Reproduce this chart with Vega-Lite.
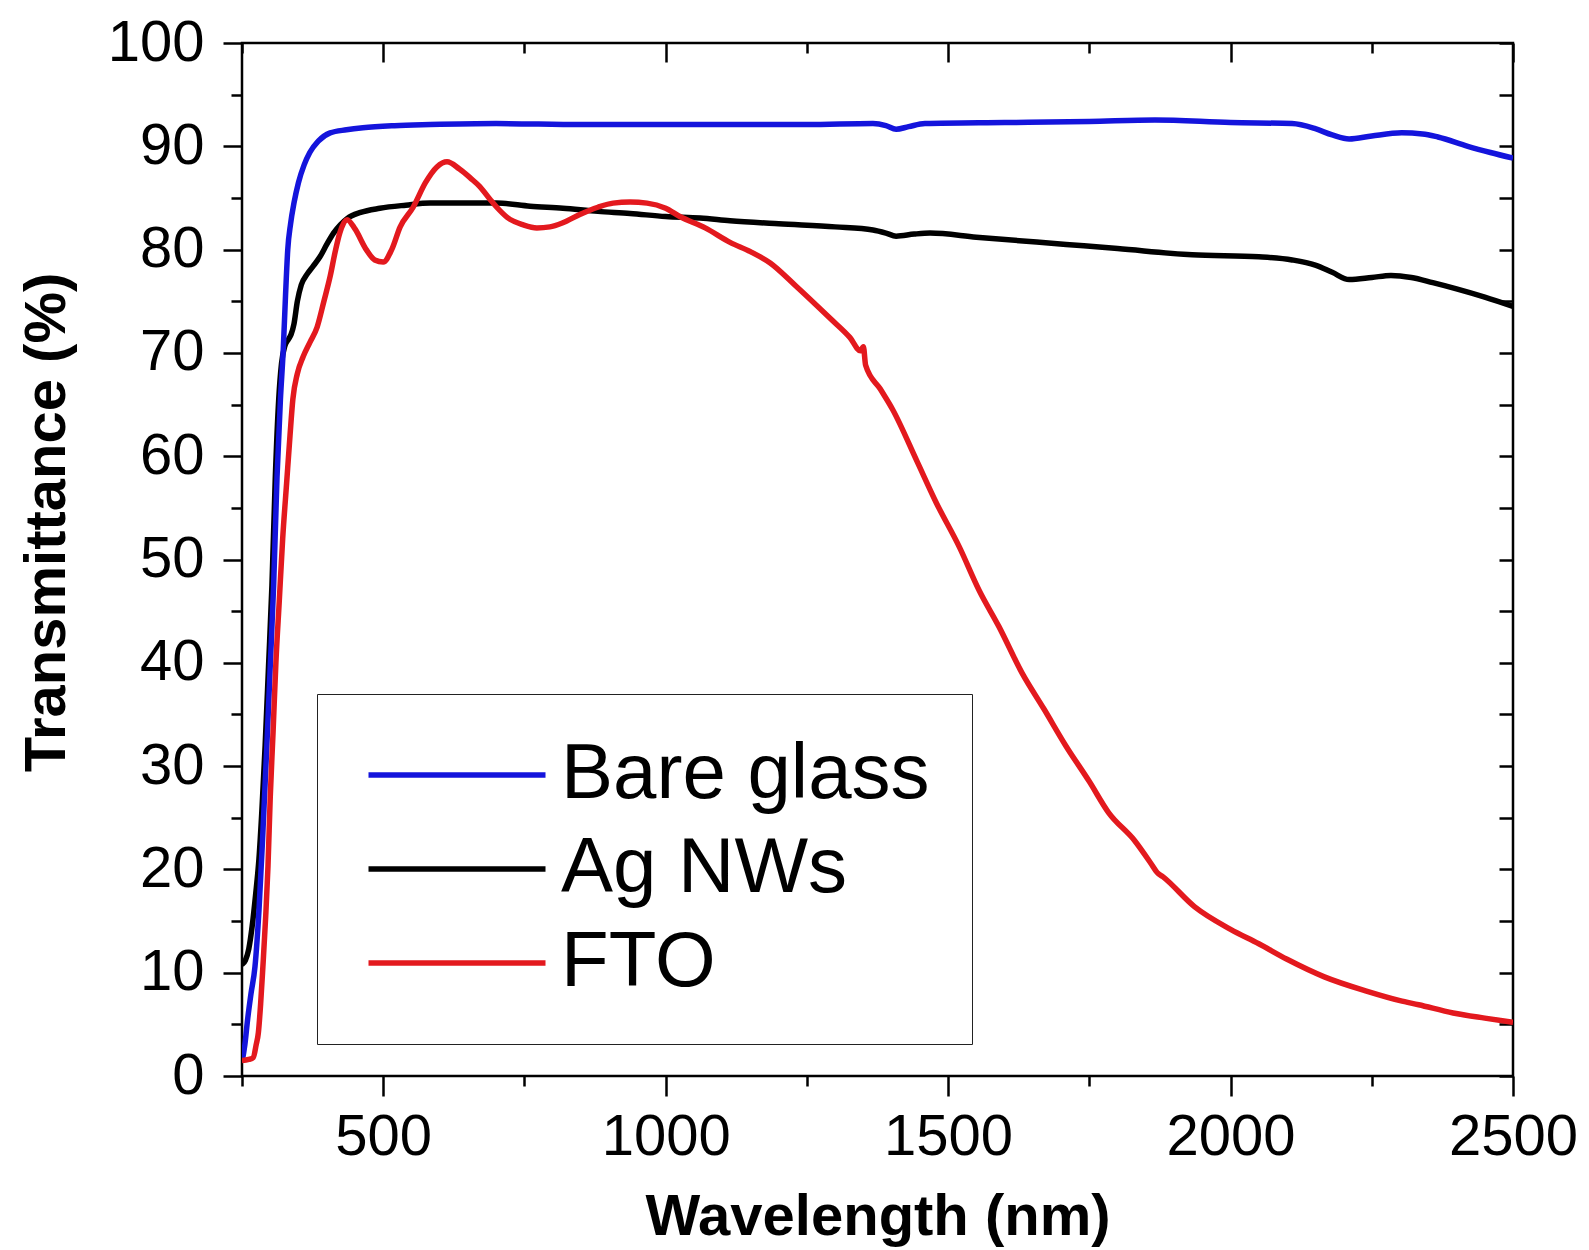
{
  "$schema": "https://vega.github.io/schema/vega-lite/v6.json",
  "autosize": {"type": "none"},
  "width": 1271,
  "height": 1033,
  "padding": {"left": 242, "top": 43, "right": 76, "bottom": 174},
  "background": "white",
  "view": {"stroke": "black", "strokeWidth": 2.5},
  "config": {
    "font": "Liberation Sans",
    "axis": {"grid": false, "domain": false, "zindex": 1, "tickColor": "black", "tickWidth": 2.5, "labelColor": "black", "titleColor": "black", "labelFont": "Liberation Sans", "titleFont": "Liberation Sans", "labelOverlap": false, "labelFlush": false}
  },
  "datasets": {
    "spectra": [
      {"s": "Ag NWs", "w": 250, "t": 10.8}, {"s": "Ag NWs", "w": 256, "t": 11.2}, {"s": "Ag NWs", "w": 262, "t": 12.3}, {"s": "Ag NWs", "w": 268, "t": 14.5}, {"s": "Ag NWs", "w": 274, "t": 17.5}, {"s": "Ag NWs", "w": 280, "t": 21}, {"s": "Ag NWs", "w": 285, "t": 25.5}, {"s": "Ag NWs", "w": 291, "t": 32}, {"s": "Ag NWs", "w": 297, "t": 39.7}, {"s": "Ag NWs", "w": 303, "t": 47.5}, {"s": "Ag NWs", "w": 309, "t": 58}, {"s": "Ag NWs", "w": 315, "t": 65.5}, {"s": "Ag NWs", "w": 320, "t": 69}, {"s": "Ag NWs", "w": 326, "t": 70.7}, {"s": "Ag NWs", "w": 332, "t": 71.3}, {"s": "Ag NWs", "w": 337, "t": 71.8}, {"s": "Ag NWs", "w": 342, "t": 72.8}, {"s": "Ag NWs", "w": 348, "t": 75}, {"s": "Ag NWs", "w": 355, "t": 76.6}, {"s": "Ag NWs", "w": 365, "t": 77.6}, {"s": "Ag NWs", "w": 376, "t": 78.4}, {"s": "Ag NWs", "w": 388, "t": 79.3}, {"s": "Ag NWs", "w": 400, "t": 80.5}, {"s": "Ag NWs", "w": 412, "t": 81.6}, {"s": "Ag NWs", "w": 424, "t": 82.4}, {"s": "Ag NWs", "w": 436, "t": 83}, {"s": "Ag NWs", "w": 460, "t": 83.6}, {"s": "Ag NWs", "w": 494, "t": 84.0}, {"s": "Ag NWs", "w": 540, "t": 84.3}, {"s": "Ag NWs", "w": 583, "t": 84.5}, {"s": "Ag NWs", "w": 650, "t": 84.5}, {"s": "Ag NWs", "w": 701, "t": 84.5}, {"s": "Ag NWs", "w": 760, "t": 84.2}, {"s": "Ag NWs", "w": 818, "t": 84.0}, {"s": "Ag NWs", "w": 880, "t": 83.7}, {"s": "Ag NWs", "w": 937, "t": 83.5}, {"s": "Ag NWs", "w": 1000, "t": 83.2}, {"s": "Ag NWs", "w": 1061, "t": 83.05}, {"s": "Ag NWs", "w": 1114, "t": 82.8}, {"s": "Ag NWs", "w": 1200, "t": 82.5}, {"s": "Ag NWs", "w": 1300, "t": 82.2}, {"s": "Ag NWs", "w": 1367, "t": 81.9}, {"s": "Ag NWs", "w": 1390, "t": 81.6}, {"s": "Ag NWs", "w": 1408, "t": 81.3}, {"s": "Ag NWs", "w": 1440, "t": 81.5}, {"s": "Ag NWs", "w": 1468, "t": 81.6}, {"s": "Ag NWs", "w": 1550, "t": 81.2}, {"s": "Ag NWs", "w": 1709, "t": 80.5}, {"s": "Ag NWs", "w": 1800, "t": 80.1}, {"s": "Ag NWs", "w": 1932, "t": 79.5}, {"s": "Ag NWs", "w": 2050, "t": 79.3}, {"s": "Ag NWs", "w": 2109, "t": 79.0}, {"s": "Ag NWs", "w": 2150, "t": 78.5}, {"s": "Ag NWs", "w": 2180, "t": 77.8}, {"s": "Ag NWs", "w": 2210, "t": 77.1}, {"s": "Ag NWs", "w": 2250, "t": 77.3}, {"s": "Ag NWs", "w": 2284, "t": 77.5}, {"s": "Ag NWs", "w": 2320, "t": 77.3}, {"s": "Ag NWs", "w": 2358, "t": 76.8}, {"s": "Ag NWs", "w": 2400, "t": 76.2}, {"s": "Ag NWs", "w": 2450, "t": 75.4}, {"s": "Ag NWs", "w": 2500, "t": 74.5},
      {"s": "Bare glass", "w": 250, "t": 1.3}, {"s": "Bare glass", "w": 255, "t": 3}, {"s": "Bare glass", "w": 260, "t": 5.5}, {"s": "Bare glass", "w": 266, "t": 8}, {"s": "Bare glass", "w": 273, "t": 10.6}, {"s": "Bare glass", "w": 280, "t": 16}, {"s": "Bare glass", "w": 287, "t": 23.6}, {"s": "Bare glass", "w": 294, "t": 32}, {"s": "Bare glass", "w": 300, "t": 39.7}, {"s": "Bare glass", "w": 306, "t": 47.5}, {"s": "Bare glass", "w": 312, "t": 58}, {"s": "Bare glass", "w": 318, "t": 65.5}, {"s": "Bare glass", "w": 323, "t": 70.3}, {"s": "Bare glass", "w": 327, "t": 75.5}, {"s": "Bare glass", "w": 331, "t": 80}, {"s": "Bare glass", "w": 336, "t": 82.5}, {"s": "Bare glass", "w": 342, "t": 84.5}, {"s": "Bare glass", "w": 350, "t": 86.5}, {"s": "Bare glass", "w": 360, "t": 88.2}, {"s": "Bare glass", "w": 370, "t": 89.4}, {"s": "Bare glass", "w": 385, "t": 90.5}, {"s": "Bare glass", "w": 406, "t": 91.3}, {"s": "Bare glass", "w": 435, "t": 91.6}, {"s": "Bare glass", "w": 464, "t": 91.8}, {"s": "Bare glass", "w": 520, "t": 92.0}, {"s": "Bare glass", "w": 583, "t": 92.1}, {"s": "Bare glass", "w": 700, "t": 92.2}, {"s": "Bare glass", "w": 850, "t": 92.1}, {"s": "Bare glass", "w": 1000, "t": 92.1}, {"s": "Bare glass", "w": 1114, "t": 92.1}, {"s": "Bare glass", "w": 1250, "t": 92.1}, {"s": "Bare glass", "w": 1367, "t": 92.2}, {"s": "Bare glass", "w": 1390, "t": 92.0}, {"s": "Bare glass", "w": 1408, "t": 91.65}, {"s": "Bare glass", "w": 1430, "t": 91.9}, {"s": "Bare glass", "w": 1459, "t": 92.2}, {"s": "Bare glass", "w": 1600, "t": 92.3}, {"s": "Bare glass", "w": 1750, "t": 92.4}, {"s": "Bare glass", "w": 1866, "t": 92.55}, {"s": "Bare glass", "w": 2000, "t": 92.3}, {"s": "Bare glass", "w": 2109, "t": 92.2}, {"s": "Bare glass", "w": 2150, "t": 91.7}, {"s": "Bare glass", "w": 2180, "t": 91.1}, {"s": "Bare glass", "w": 2210, "t": 90.7}, {"s": "Bare glass", "w": 2250, "t": 91.0}, {"s": "Bare glass", "w": 2303, "t": 91.3}, {"s": "Bare glass", "w": 2340, "t": 91.2}, {"s": "Bare glass", "w": 2367, "t": 90.9}, {"s": "Bare glass", "w": 2420, "t": 90.0}, {"s": "Bare glass", "w": 2460, "t": 89.4}, {"s": "Bare glass", "w": 2500, "t": 88.85},
      {"s": "FTO", "w": 250, "t": 1.5}, {"s": "FTO", "w": 262, "t": 1.6}, {"s": "FTO", "w": 270, "t": 1.8}, {"s": "FTO", "w": 275, "t": 3}, {"s": "FTO", "w": 279, "t": 4.2}, {"s": "FTO", "w": 283, "t": 7}, {"s": "FTO", "w": 287, "t": 10.6}, {"s": "FTO", "w": 292, "t": 15.5}, {"s": "FTO", "w": 296, "t": 20.3}, {"s": "FTO", "w": 300, "t": 27}, {"s": "FTO", "w": 305, "t": 33.3}, {"s": "FTO", "w": 310, "t": 40}, {"s": "FTO", "w": 316, "t": 46}, {"s": "FTO", "w": 322, "t": 52}, {"s": "FTO", "w": 329, "t": 57.4}, {"s": "FTO", "w": 335, "t": 62}, {"s": "FTO", "w": 340, "t": 65.5}, {"s": "FTO", "w": 348, "t": 68}, {"s": "FTO", "w": 358, "t": 69.6}, {"s": "FTO", "w": 370, "t": 71}, {"s": "FTO", "w": 383, "t": 72.5}, {"s": "FTO", "w": 395, "t": 75}, {"s": "FTO", "w": 406, "t": 77.4}, {"s": "FTO", "w": 415, "t": 79.8}, {"s": "FTO", "w": 423, "t": 81.6}, {"s": "FTO", "w": 436, "t": 82.9}, {"s": "FTO", "w": 450, "t": 82}, {"s": "FTO", "w": 470, "t": 80}, {"s": "FTO", "w": 485, "t": 79}, {"s": "FTO", "w": 500, "t": 78.8}, {"s": "FTO", "w": 515, "t": 80}, {"s": "FTO", "w": 530, "t": 82.2}, {"s": "FTO", "w": 553, "t": 84.1}, {"s": "FTO", "w": 575, "t": 86.5}, {"s": "FTO", "w": 595, "t": 88}, {"s": "FTO", "w": 613, "t": 88.5}, {"s": "FTO", "w": 635, "t": 87.8}, {"s": "FTO", "w": 655, "t": 86.9}, {"s": "FTO", "w": 671, "t": 86.1}, {"s": "FTO", "w": 690, "t": 84.8}, {"s": "FTO", "w": 701, "t": 84.1}, {"s": "FTO", "w": 720, "t": 83.1}, {"s": "FTO", "w": 748, "t": 82.4}, {"s": "FTO", "w": 772, "t": 82.1}, {"s": "FTO", "w": 795, "t": 82.2}, {"s": "FTO", "w": 818, "t": 82.6}, {"s": "FTO", "w": 848, "t": 83.4}, {"s": "FTO", "w": 880, "t": 84.1}, {"s": "FTO", "w": 907, "t": 84.5}, {"s": "FTO", "w": 937, "t": 84.6}, {"s": "FTO", "w": 967, "t": 84.5}, {"s": "FTO", "w": 1000, "t": 84.0}, {"s": "FTO", "w": 1025, "t": 83.2}, {"s": "FTO", "w": 1070, "t": 82.1}, {"s": "FTO", "w": 1114, "t": 80.7}, {"s": "FTO", "w": 1150, "t": 79.8}, {"s": "FTO", "w": 1185, "t": 78.7}, {"s": "FTO", "w": 1230, "t": 76.5}, {"s": "FTO", "w": 1292, "t": 73.3}, {"s": "FTO", "w": 1326, "t": 71.5}, {"s": "FTO", "w": 1345, "t": 70.2}, {"s": "FTO", "w": 1350, "t": 70.6}, {"s": "FTO", "w": 1354, "t": 68.8}, {"s": "FTO", "w": 1380, "t": 66.5}, {"s": "FTO", "w": 1402, "t": 64.5}, {"s": "FTO", "w": 1445, "t": 59.5}, {"s": "FTO", "w": 1479, "t": 55.5}, {"s": "FTO", "w": 1520, "t": 51.2}, {"s": "FTO", "w": 1555, "t": 47}, {"s": "FTO", "w": 1590, "t": 43.5}, {"s": "FTO", "w": 1631, "t": 39}, {"s": "FTO", "w": 1670, "t": 35.5}, {"s": "FTO", "w": 1708, "t": 32}, {"s": "FTO", "w": 1750, "t": 28.5}, {"s": "FTO", "w": 1784, "t": 25.5}, {"s": "FTO", "w": 1830, "t": 22.8}, {"s": "FTO", "w": 1860, "t": 20.5}, {"s": "FTO", "w": 1870, "t": 19.7}, {"s": "FTO", "w": 1880, "t": 19.3}, {"s": "FTO", "w": 1936, "t": 16.4}, {"s": "FTO", "w": 2000, "t": 14.2}, {"s": "FTO", "w": 2050, "t": 12.8}, {"s": "FTO", "w": 2100, "t": 11.3}, {"s": "FTO", "w": 2166, "t": 9.6}, {"s": "FTO", "w": 2242, "t": 8.2}, {"s": "FTO", "w": 2300, "t": 7.3}, {"s": "FTO", "w": 2333, "t": 6.9}, {"s": "FTO", "w": 2394, "t": 6.1}, {"s": "FTO", "w": 2450, "t": 5.6}, {"s": "FTO", "w": 2500, "t": 5.2}
    ]
  },
  "data": {"name": "spectra"},
  "resolve": {"axis": {"x": "independent", "y": "independent"}},
  "layer": [
    {
      "mark": {"type": "line", "strokeWidth": 5.5, "interpolate": "monotone", "clip": true},
      "encoding": {
        "x": {
          "field": "w", "type": "quantitative",
          "scale": {"domain": [250, 2500], "nice": false, "zero": false},
          "axis": {
            "orient": "bottom",
            "values": [250, 500, 750, 1000, 1250, 1500, 1750, 2000, 2250, 2500],
            "format": "d",
            "labelExpr": "datum.value % 500 === 0 ? datum.label : ''",
            "tickSize": {"condition": {"test": "datum.value % 500 === 0", "value": 20}, "value": 10},
            "labelFontSize": 58,
            "labelPadding": 12,
            "title": "Wavelength (nm)",
            "titleFontSize": 58,
            "titleFontWeight": "bold",
            "titleBaseline": "alphabetic",
            "titleY": 158
          }
        },
        "y": {
          "field": "t", "type": "quantitative",
          "scale": {"domain": [0, 100], "nice": false},
          "axis": {
            "orient": "left",
            "values": [0, 5, 10, 15, 20, 25, 30, 35, 40, 45, 50, 55, 60, 65, 70, 75, 80, 85, 90, 95, 100],
            "format": "d",
            "labelExpr": "datum.value % 10 === 0 ? datum.label : ''",
            "tickSize": {"condition": {"test": "datum.value % 10 === 0", "value": 19}, "value": 11},
            "labelFontSize": 58,
            "labelPadding": 19,
            "title": "Transmittance (%)",
            "titleFontSize": 58,
            "titleFontWeight": "bold",
            "titleBaseline": "alphabetic",
            "titleAngle": -90,
            "titleX": -178,
            "titleY": 479
          }
        },
        "color": {
          "field": "s", "type": "nominal",
          "scale": {"domain": ["Bare glass", "Ag NWs", "FTO"], "range": ["#1414dc", "#000000", "#e3191e"]},
          "legend": {
            "orient": "none",
            "legendX": 75,
            "legendY": 651,
            "title": null,
            "padding": 42,
            "strokeColor": "#222222",
            "labelFont": "Liberation Sans",
            "labelFontSize": 78,
            "labelColor": "black",
            "labelLimit": 800,
            "labelOffset": 124,
            "symbolType": "M-1,0H5",
            "symbolSize": 3481,
            "symbolStrokeWidth": 5.5,
            "rowPadding": 16
          }
        }
      }
    },
    {
      "mark": {"type": "line", "strokeOpacity": 0},
      "encoding": {
        "x": {
          "field": "w", "type": "quantitative",
          "scale": {"domain": [250, 2500], "nice": false, "zero": false},
          "axis": {
            "orient": "top",
            "values": [250, 500, 750, 1000, 1250, 1500, 1750, 2000, 2250, 2500],
            "labels": false,
            "tickSize": {"condition": {"test": "datum.value % 500 === 0", "value": -19}, "value": -10},
            "title": null
          }
        },
        "y": {
          "field": "t", "type": "quantitative",
          "scale": {"domain": [0, 100], "nice": false},
          "axis": {
            "orient": "right",
            "values": [0, 5, 10, 15, 20, 25, 30, 35, 40, 45, 50, 55, 60, 65, 70, 75, 80, 85, 90, 95, 100],
            "labels": false,
            "tickSize": -14,
            "title": null
          }
        },
        "detail": {"field": "s", "type": "nominal"}
      }
    }
  ]
}
